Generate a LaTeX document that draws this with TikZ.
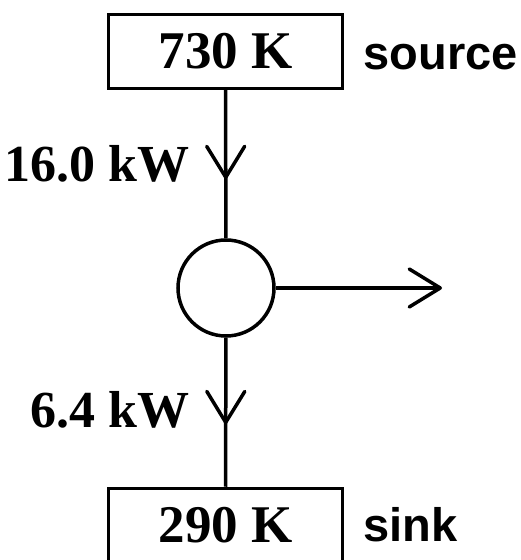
\documentclass[tikz,border=0pt]{standalone}
\usepackage{fontspec}
\setmainfont{Liberation Serif}
\setsansfont{Liberation Sans}
\usepackage{tikz}
\usetikzlibrary{positioning,arrows.meta,decorations.markings}

\begin{document}
\begin{tikzpicture}[
  x=1pt, y=1pt,
  line width=3.5pt,
  res/.style={draw, minimum width=234pt, minimum height=74pt, inner sep=0pt,
    font=\fontsize{53}{53}\selectfont\bfseries},
  eng/.style={draw, circle, minimum size=96pt, inner sep=0pt},
  lbl/.style={inner sep=0pt, font=\fontsize{47}{47}\selectfont\sffamily\bfseries},
  flbl/.style={inner sep=0pt, font=\fontsize{52}{52}\selectfont\bfseries},
  barb/.tip={Straight Barb[length=31pt, width=38pt, round]},
  flow/.style={postaction={decorate},
    decoration={markings, mark=at position #1 with {\arrow{barb}}}}
]
\useasboundingbox (0,0) rectangle (521,560);

\node[res] (src) at (225.5,508.5) {730 K};
\node[eng] (hx) at (226,272) {};
\node[res] (snk) at (225.5,34.5) {290 K};
\coordinate (wk) at (442,272);

\draw[flow=0.6] (src) -- (hx);
\draw[flow=0.58] (hx) -- (snk);
\draw[-{barb}] (hx) -- (wk);

\node[lbl, anchor=base west] (srclbl) at (362,490) {source};
\node[lbl, anchor=base west] (snklbl) at (362,18) {sink};
\node[flbl, anchor=base east] (qin) at (191,378) {16.0 kW};
\node[flbl, anchor=base east] (qout) at (191,132) {6.4 kW};
\end{tikzpicture}
\end{document}
